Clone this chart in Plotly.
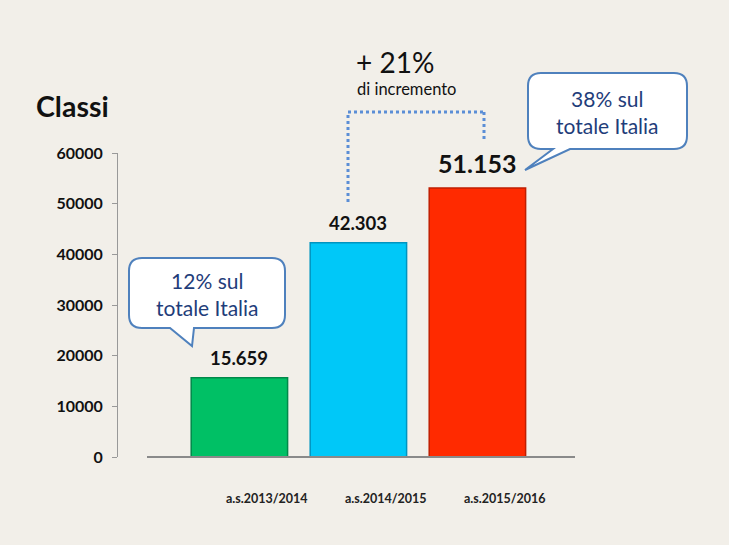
import plotly.graph_objects as go

# ---- data ----
categories = ["a.s.2013/2014", "a.s.2014/2015", "a.s.2015/2016"]
values = [15659, 42303, 53100]          # bar heights as drawn in the picture
value_labels = ["15.659", "42.303", "51.153"]
bar_colors = ["#00c065", "#00c8f8", "#ff2a00"]
bar_edges = ["#00894a", "#0094c0", "#c01e00"]
y_ticks = [0, 10000, 20000, 30000, 40000, 50000, 60000]

W, H = 729, 545
L, R, T, B = 118, 575, 153, 457   # plot area in pixels


def pp(x, y):
    return (x - L) / (R - L), (B - y) / (B - T)


def callout_path(x0, y0, x1, y1, r, bx0, tip, bx1):
    pts = []
    def P(cmd, *xy):
        coords = []
        for i in range(0, len(xy), 2):
            px, py = pp(xy[i], xy[i + 1])
            coords.append(f"{px:.5f},{py:.5f}")
        pts.append(cmd + " " + " ".join(coords))
    P("M", x0 + r, y0)
    P("L", x1 - r, y0)
    P("Q", x1, y0, x1, y0 + r)
    P("L", x1, y1 - r)
    P("Q", x1, y1, x1 - r, y1)
    P("L", bx1, y1)
    P("L", tip[0], tip[1])
    P("L", bx0, y1)
    P("L", x0 + r, y1)
    P("Q", x0, y1, x0, y1 - r)
    P("L", x0, y0 + r)
    P("Q", x0, y0, x0 + r, y0)
    return " ".join(pts) + " Z"


FONT = "Lato, 'Open Sans', sans-serif"

fig = go.Figure()
fig.add_trace(go.Bar(
    x=list(range(len(categories))), y=values,
    marker=dict(color=bar_colors, line=dict(color=bar_edges, width=1.5)),
    width=0.81, hoverinfo="skip",
))

annotations = []


def ptext(x, y, text, size, color="#111111", bold=False):
    cx, cy = pp(x, y)
    annotations.append(dict(x=cx, y=cy, xref="paper", yref="paper", text=text,
                            showarrow=False, xanchor="center", yanchor="middle",
                            font=dict(family=FONT, size=size, color=color,
                                      weight="bold" if bold else "normal")))


# value labels
for i, (v, lab) in enumerate(zip(values, value_labels)):
    big = i == 2
    annotations.append(dict(
        x=i, y=v, xref="x", yref="y", text=lab, showarrow=False,
        yshift=25 if big else 20, xanchor="center", yanchor="middle",
        font=dict(family=FONT, size=25 if big else 18.5, color="#111111", weight="bold")))
# category labels
for i, c in enumerate(categories):
    annotations.append(dict(
        x=i, y=0, xref="x", yref="y", text=c, showarrow=False,
        xshift=28, yshift=-41, xanchor="center", yanchor="middle",
        font=dict(family=FONT, size=12.5, color="#222222", weight="bold")))

ptext(72, 106, "Classi", 28.5, bold=True)
ptext(395, 62, "+ 21%", 28)
ptext(406, 89, "di incremento", 16.5)
ptext(207, 294, "12% sul<br>totale Italia", 21, color="#1f3d7a")
ptext(607, 112, "38% sul<br>totale Italia", 21, color="#1f3d7a")

shapes = []
# callout bubbles
shapes.append(dict(type="path", xref="paper", yref="paper",
                   path=callout_path(129, 258, 285, 328, 13, 170, (192, 346), 194),
                   fillcolor="white", line=dict(color="#4f81bd", width=2), layer="above"))
shapes.append(dict(type="path", xref="paper", yref="paper",
                   path=callout_path(528, 73, 687, 149, 13, 553, (525, 170), 570),
                   fillcolor="white", line=dict(color="#4f81bd", width=2), layer="above"))
# dotted bracket
for (xa, ya, xb, yb) in [(348, 202, 348, 112), (348, 112, 484, 112), (484, 112, 484, 142)]:
    a = pp(xa, ya); b = pp(xb, yb)
    shapes.append(dict(type="line", xref="paper", yref="paper", x0=a[0], y0=a[1], x1=b[0], y1=b[1],
                       line=dict(color="#5b8ed6", width=3, dash="dot")))
# x axis baseline
a = pp(147, 457); b = pp(575, 457)
shapes.append(dict(type="line", xref="paper", yref="paper", x0=a[0], y0=a[1], x1=b[0], y1=b[1],
                   line=dict(color="#8a8a8a", width=2)))

fig.update_layout(
    width=W, height=H, autosize=False,
    margin=dict(l=L, r=W - R, t=T, b=H - B, pad=0),
    paper_bgcolor="#f2efe9", plot_bgcolor="#f2efe9",
    showlegend=False,
    annotations=annotations, shapes=shapes,
    xaxis=dict(range=[-1.02, 2.82], showticklabels=False, showgrid=False, zeroline=False,
               showline=False, ticks="", fixedrange=True),
    yaxis=dict(range=[0, 60000], tickvals=y_ticks, ticktext=[str(v) for v in y_ticks],
               showgrid=False, zeroline=False, showline=True, linecolor="#999999", linewidth=1,
               ticks="outside", ticklen=5, tickcolor="#999999",
               tickfont=dict(family=FONT, size=16, color="#111111", weight="bold"),
               ticklabelstandoff=6),
)

fig.write_html("out.html")
